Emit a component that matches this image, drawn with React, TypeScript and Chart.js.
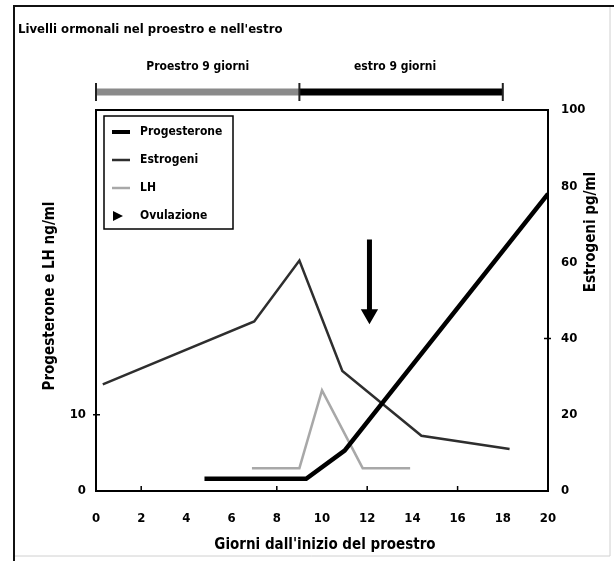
import React, { useEffect, useRef } from 'react';
import { Chart, registerables } from 'chart.js';

Chart.register(...registerables);

const FONT = '"Liberation Sans Narrow", "DejaVu Sans Condensed", "Arial Narrow", "DejaVu Sans", sans-serif';

const titleText = "Livelli ormonali nel proestro e nell'estro";
const xAxisTitle = "Giorni dall'inizio del proestro";
const leftAxisTitle = 'Progesterone e LH ng/ml';
const rightAxisTitle = 'Estrogeni pg/ml';

const phaseLabels = ['Proestro 9 giorni', 'estro 9 giorni'];
const phaseStarts = [0, 9];
const phaseEnds = [9, 18];
const phaseColors = ['#8a8a8a', '#000000'];

const seriesNames = ['Progesterone', 'Estrogeni', 'LH', 'Ovulazione'];

const progDays = [4.8, 9.3, 11, 20];
const progValues = [1.6, 1.6, 5.3, 39];

const estDays = [0.3, 7, 9, 10.9, 14.4, 18.3];
const estValues = [28, 44.5, 60.5, 31.5, 14.5, 11];

const lhDays = [6.9, 9, 10, 11.8, 13.9];
const lhValues = [3, 3, 13.2, 3, 3];

const ovulationDays = [12.1, 12.1];
const ovulationValues = [33, 23.2];

const xTickValues = [0, 2, 4, 6, 8, 10, 12, 14, 16, 18, 20];
const leftTickValues = [0, 10];
const rightTickValues = [0, 20, 40, 60, 80, 100];
const xMinorMarks = [2, 8, 12, 16];
const leftMinorMarks = [10];
const rightMinorMarks = [40];

const toPoints = (xs: number[], ys: number[]) => xs.map((x, i) => ({ x, y: ys[i] }));

const decorPlugin = {
  id: 'decor',
  beforeDraw(chart: any) {
    const ctx = chart.ctx;
    ctx.save();
    ctx.fillStyle = '#ffffff';
    ctx.fillRect(0, 0, chart.width, chart.height);
    ctx.strokeStyle = '#d0d0d0';
    ctx.lineWidth = 1;
    ctx.beginPath();
    ctx.moveTo(610, 6);
    ctx.lineTo(610, 556);
    ctx.lineTo(13, 556);
    ctx.stroke();
    ctx.strokeStyle = '#111';
    ctx.lineWidth = 2;
    ctx.beginPath();
    ctx.moveTo(14, 561);
    ctx.lineTo(14, 6);
    ctx.lineTo(614, 6);
    ctx.stroke();
    ctx.restore();
  },
  afterDraw(chart: any) {
    const ctx = chart.ctx;
    const area = chart.chartArea;
    const xs = chart.scales.x;
    const yl = chart.scales.y;
    const yr = chart.scales.y1;
    ctx.save();

    ctx.strokeStyle = '#000';
    ctx.lineWidth = 2;
    ctx.strokeRect(area.left, area.top, area.right - area.left, area.bottom - area.top);

    ctx.lineWidth = 1.5;
    ctx.beginPath();
    xMinorMarks.forEach((v) => {
      const px = xs.getPixelForValue(v);
      ctx.moveTo(px, area.bottom);
      ctx.lineTo(px, area.bottom - 5);
    });
    leftMinorMarks.forEach((v) => {
      const py = yl.getPixelForValue(v);
      ctx.moveTo(area.left - 3, py);
      ctx.lineTo(area.left + 4, py);
    });
    rightMinorMarks.forEach((v) => {
      const py = yr.getPixelForValue(v);
      ctx.moveTo(area.right - 4, py);
      ctx.lineTo(area.right + 3, py);
    });
    ctx.stroke();

    ctx.fillStyle = '#000';
    ctx.font = `bold 13px ${FONT}`;
    ctx.textAlign = 'left';
    ctx.textBaseline = 'middle';
    ctx.fillText(titleText, 18, 30);

    phaseLabels.forEach((label, i) => {
      const x0 = xs.getPixelForValue(phaseStarts[i]);
      const x1 = xs.getPixelForValue(phaseEnds[i]);
      ctx.strokeStyle = phaseColors[i];
      ctx.lineWidth = 7;
      ctx.lineCap = 'butt';
      ctx.beginPath();
      ctx.moveTo(x0, 92);
      ctx.lineTo(x1, 92);
      ctx.stroke();
      ctx.fillStyle = '#000';
      ctx.font = `bold 12px ${FONT}`;
      ctx.textAlign = 'center';
      ctx.fillText(label, (x0 + x1) / 2 - (i === 1 ? 6 : 0), 67);
    });
    const caps = [phaseStarts[0], ...phaseEnds];
    ctx.strokeStyle = '#222';
    ctx.lineWidth = 2;
    ctx.beginPath();
    caps.forEach((v) => {
      const px = xs.getPixelForValue(v);
      ctx.moveTo(px, 83);
      ctx.lineTo(px, 101);
    });
    ctx.stroke();

    const bx = 104, by = 116, bw = 129, bh = 113;
    ctx.strokeStyle = '#000';
    ctx.lineWidth = 1.5;
    ctx.strokeRect(bx, by, bw, bh);
    const itemYs = [132, 160, 188, 216];
    chart.data.datasets.forEach((ds: any, i: number) => {
      const yy = itemYs[i];
      if (i < 3) {
        ctx.strokeStyle = ds.borderColor;
        ctx.lineWidth = i === 0 ? 4 : 2.5;
        ctx.beginPath();
        ctx.moveTo(112, yy);
        ctx.lineTo(130, yy);
        ctx.stroke();
      } else {
        ctx.fillStyle = '#000';
        ctx.beginPath();
        ctx.moveTo(113, yy - 5);
        ctx.lineTo(123, yy);
        ctx.lineTo(113, yy + 5);
        ctx.closePath();
        ctx.fill();
      }
      ctx.fillStyle = '#000';
      ctx.font = `bold 12px ${FONT}`;
      ctx.textAlign = 'left';
      ctx.textBaseline = 'middle';
      ctx.fillText(ds.label, 140, yy);
    });

    ctx.font = `bold 15px ${FONT}`;
    ctx.textAlign = 'center';
    ctx.textBaseline = 'middle';
    ctx.fillText(xAxisTitle, (area.left + area.right) / 2 + 3, 545);

    ctx.save();
    ctx.translate(50, 296);
    ctx.rotate(-Math.PI / 2);
    ctx.fillText(leftAxisTitle, 0, 0);
    ctx.restore();

    ctx.save();
    ctx.translate(591, 232);
    ctx.rotate(-Math.PI / 2);
    ctx.fillText(rightAxisTitle, 0, 0);
    ctx.restore();

    ctx.restore();
  },
};

export default function App() {
  const canvasRef = useRef<HTMLCanvasElement | null>(null);

  useEffect(() => {
    document.body.style.margin = '0';
    const canvas = canvasRef.current;
    if (!canvas) return;
    const tickFont = { family: FONT, size: 13, weight: 'bold' as const };
    const chart = new Chart(canvas, {
      type: 'line',
      data: {
        datasets: [
          {
            label: seriesNames[0],
            data: toPoints(progDays, progValues),
            borderColor: '#000000',
            borderWidth: 4.5,
            pointRadius: 0,
            yAxisID: 'y',
            tension: 0,
          },
          {
            label: seriesNames[1],
            data: toPoints(estDays, estValues),
            borderColor: '#2e2e2e',
            borderWidth: 2.5,
            pointRadius: 0,
            yAxisID: 'y1',
            tension: 0,
          },
          {
            label: seriesNames[2],
            data: toPoints(lhDays, lhValues),
            borderColor: '#a8a8a8',
            borderWidth: 2.5,
            pointRadius: 0,
            yAxisID: 'y',
            tension: 0,
          },
          {
            label: seriesNames[3],
            data: toPoints(ovulationDays, ovulationValues),
            borderColor: '#000000',
            backgroundColor: '#000000',
            borderWidth: 5,
            pointRadius: [0, 5],
            pointStyle: 'triangle',
            rotation: 180,
            yAxisID: 'y',
            tension: 0,
          } as any,
        ],
      },
      options: {
        responsive: false,
        animation: false,
        devicePixelRatio: 1,
        layout: { padding: { top: 110, left: 0, right: 0, bottom: 0 } },
        plugins: {
          legend: { display: false },
          tooltip: { enabled: false },
          title: { display: false },
        },
        scales: {
          x: {
            type: 'linear',
            min: 0,
            max: 20,
            grid: { display: false, drawTicks: false },
            border: { display: true, color: '#000', width: 2 },
            afterBuildTicks: (scale: any) => {
              scale.ticks = xTickValues.map((v) => ({ value: v }));
            },
            afterFit: (scale: any) => {
              scale.height = 70;
            },
            ticks: { color: '#000', font: tickFont, padding: 20, maxRotation: 0, autoSkip: false },
          },
          y: {
            type: 'linear',
            position: 'left',
            min: 0,
            max: 50,
            grid: { display: false, drawTicks: false },
            border: { display: true, color: '#000', width: 2 },
            afterBuildTicks: (scale: any) => {
              scale.ticks = leftTickValues.map((v) => ({ value: v }));
            },
            afterFit: (scale: any) => {
              scale.width = 96;
            },
            ticks: { color: '#000', font: tickFont, padding: 10 },
          },
          y1: {
            type: 'linear',
            position: 'right',
            min: 0,
            max: 100,
            grid: { display: false, drawTicks: false },
            border: { display: true, color: '#000', width: 2 },
            afterBuildTicks: (scale: any) => {
              scale.ticks = rightTickValues.map((v) => ({ value: v }));
            },
            afterFit: (scale: any) => {
              scale.width = 66;
            },
            ticks: { color: '#000', font: tickFont, padding: 13 },
          },
        },
      },
      plugins: [decorPlugin],
    });
    return () => chart.destroy();
  }, []);

  return (
    <div style={{ width: 614, height: 561, position: 'relative' }}>
      <canvas ref={canvasRef} width={614} height={561} style={{ width: 614, height: 561, display: 'block' }} />
    </div>
  );
}
